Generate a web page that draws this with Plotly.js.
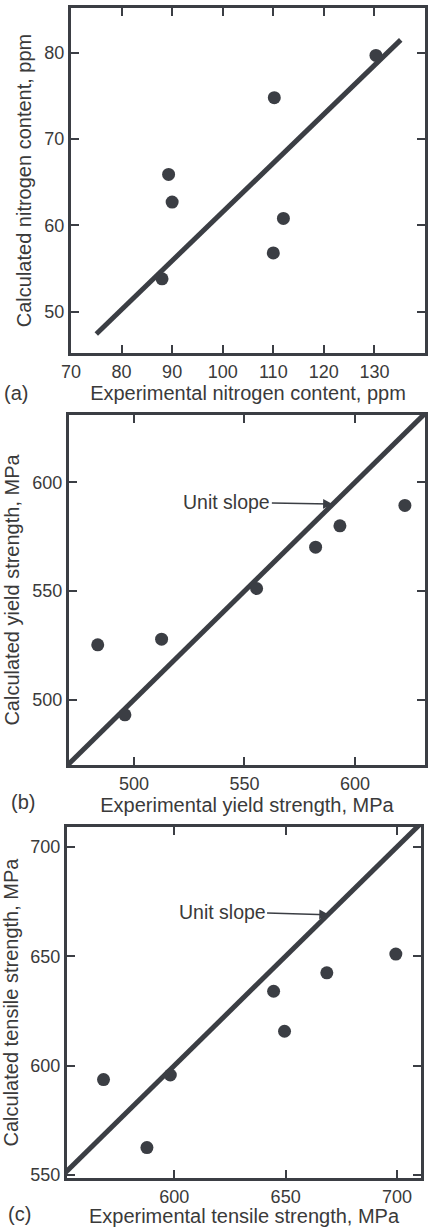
<!DOCTYPE html>
<html>
<head>
<meta charset="utf-8">
<script src="https://cdn.plot.ly/plotly-3.0.1.min.js"></script>
<style>html,body{margin:0;padding:0;background:#fff;}#chart{width:432px;height:1227px;}</style>
</head>
<body>
<div id="chart"></div>
<script>
// ---- Data ----
// (a) nitrogen content, ppm
const nExperimental = [88, 89.3, 90, 110.2, 110, 112, 130.3];
const nCalculated   = [53.8, 65.9, 62.7, 74.8, 56.8, 60.8, 79.7];
const nFitX = [75, 135.2];
const nFitY = [47.4, 81.5];
// (b) yield strength, MPa
const ysExperimental = [483.6, 495.9, 512.5, 555.5, 582.2, 593.2, 622.6];
const ysCalculated   = [525.3, 493.1, 527.9, 551.2, 570.2, 580.0, 589.4];
const ysUnit = [460, 640];
// (c) tensile strength, MPa
const tsExperimental = [568.2, 587.7, 598.2, 644.6, 649.5, 668.5, 699.5];
const tsCalculated   = [593.6, 562.5, 595.7, 634.0, 615.7, 642.4, 651.0];
const tsUnit = [540, 720];

const ink = '#3b3e44';
const txt = '#3a3a3a';
const W = 432, H = 1227;
const fx = p => p / W;
const fy = p => 1 - p / H;

const dotStyle = {color: ink, size: 13};
const lineStyle = {color: ink, width: 5};

const traces = [
  {x: nFitX, y: nFitY, mode: 'lines', line: lineStyle, xaxis: 'x', yaxis: 'y', hoverinfo: 'skip'},
  {x: nExperimental, y: nCalculated, mode: 'markers', marker: dotStyle, xaxis: 'x', yaxis: 'y'},
  {x: ysUnit, y: ysUnit, mode: 'lines', line: lineStyle, xaxis: 'x2', yaxis: 'y2', hoverinfo: 'skip'},
  {x: ysExperimental, y: ysCalculated, mode: 'markers', marker: dotStyle, xaxis: 'x2', yaxis: 'y2'},
  {x: tsUnit, y: tsUnit, mode: 'lines', line: lineStyle, xaxis: 'x3', yaxis: 'y3', hoverinfo: 'skip'},
  {x: tsExperimental, y: tsCalculated, mode: 'markers', marker: dotStyle, xaxis: 'x3', yaxis: 'y3'}
];

const fam = 'Liberation Sans, Arial, sans-serif';
const tickFont = {family: fam, size: 18, color: txt};
const titleFont = {family: fam, size: 20, color: txt};
const noteFont = {family: fam, size: 19.5, color: txt};

function ax(opts) {
  return Object.assign({
    showline: true, linewidth: 3, linecolor: ink, mirror: 'ticks',
    ticks: 'inside', ticklen: 8, tickwidth: 2, tickcolor: ink,
    showgrid: false, zeroline: false, tickfont: tickFont,
    fixedrange: true
  }, opts);
}

const layout = {
  width: W, height: H,
  margin: {l: 0, r: 0, t: 0, b: 0},
  paper_bgcolor: '#fff', plot_bgcolor: '#fff',
  showlegend: false,
  xaxis: ax({domain: [fx(71), fx(425)], range: [70, 140], dtick: 10, tick0: 70, anchor: 'y',
    title: {text: 'Experimental nitrogen content, ppm', font: titleFont, standoff: 4}}),
  yaxis: ax({domain: [fy(353), fy(8)], range: [45.2, 85.2], dtick: 10, tick0: 50, anchor: 'x',
    title: {text: 'Calculated nitrogen content, ppm', font: titleFont, standoff: 8}}),
  xaxis2: ax({domain: [fx(69), fx(425)], range: [470.6, 631.7], dtick: 50, tick0: 500, anchor: 'y2',
    title: {text: 'Experimental yield strength, MPa', font: titleFont, standoff: 4}}),
  yaxis2: ax({domain: [fy(765), fy(415)], range: [470, 631], dtick: 50, tick0: 500, anchor: 'x2',
    title: {text: 'Calculated yield strength, MPa', font: titleFont, standoff: 8}}),
  xaxis3: ax({domain: [fx(67), fx(421)], range: [551.8, 710.8], dtick: 50, tick0: 600, anchor: 'y3',
    title: {text: 'Experimental tensile strength, MPa', font: titleFont, standoff: 4}}),
  yaxis3: ax({domain: [fy(1178), fy(827)], range: [548.6, 709.1], dtick: 50, tick0: 550, anchor: 'x3',
    title: {text: 'Calculated tensile strength, MPa', font: titleFont, standoff: 8}}),
  annotations: [
    {text: '(a)', xref: 'paper', yref: 'paper', x: fx(2), y: fy(393), xanchor: 'left', yanchor: 'middle', showarrow: false, font: titleFont},
    {text: '(b)', xref: 'paper', yref: 'paper', x: fx(9), y: fy(802), xanchor: 'left', yanchor: 'middle', showarrow: false, font: titleFont},
    {text: '(c)', xref: 'paper', yref: 'paper', x: fx(6), y: fy(1214), xanchor: 'left', yanchor: 'middle', showarrow: false, font: titleFont},
    {text: 'Unit slope', xref: 'x2', yref: 'y2', x: 590, y: 590, ax: -106, ay: -2,
      showarrow: true, arrowhead: 2, arrowsize: 1.3, arrowwidth: 1.5, arrowcolor: ink, standoff: 0,
      font: noteFont},
    {text: 'Unit slope', xref: 'x3', yref: 'y3', x: 669.5, y: 669, ax: -107, ay: -3,
      showarrow: true, arrowhead: 2, arrowsize: 1.3, arrowwidth: 1.5, arrowcolor: ink, standoff: 0,
      font: noteFont}
  ]
};

Plotly.newPlot('chart', traces, layout, {staticPlot: true, displayModeBar: false});
</script>
</body>
</html>
